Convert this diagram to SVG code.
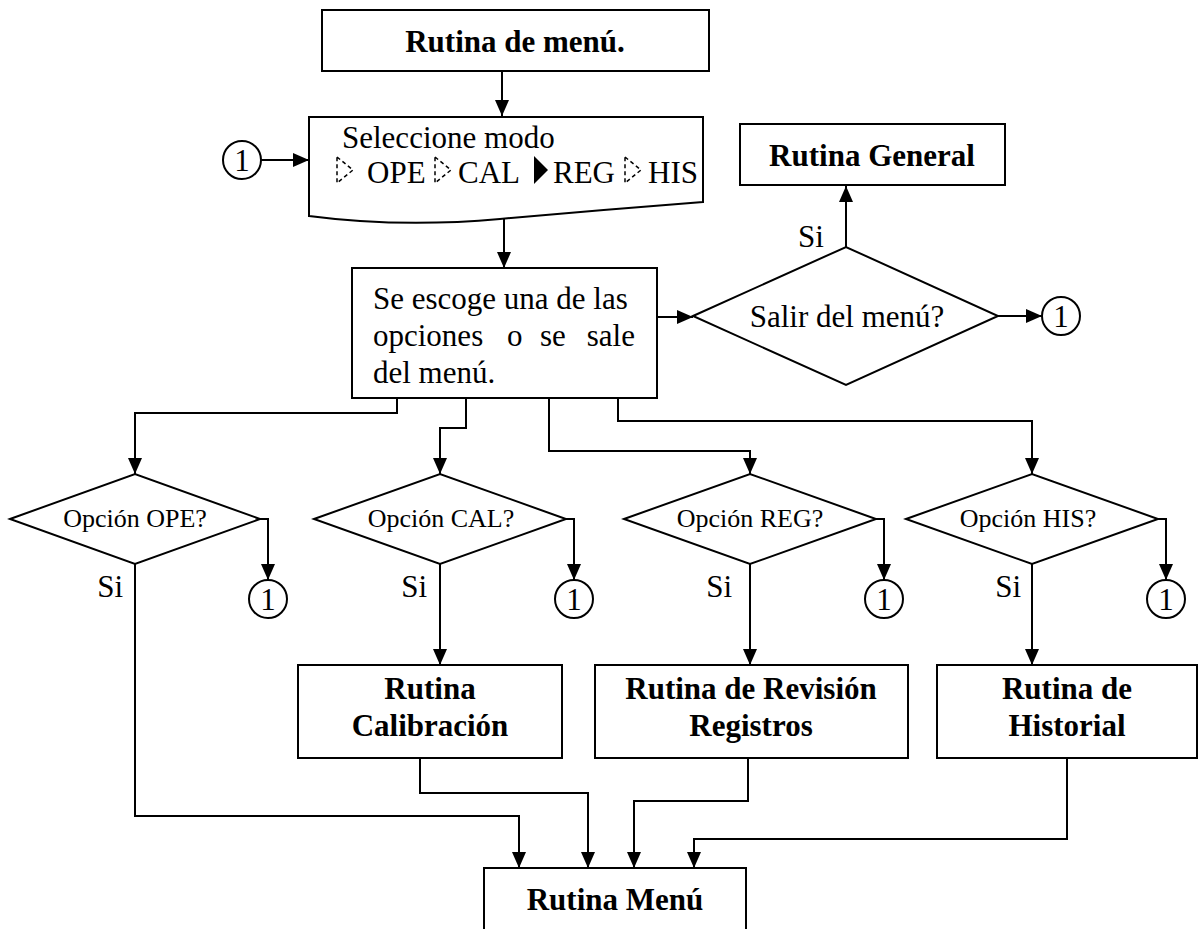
<svg xmlns="http://www.w3.org/2000/svg" width="1201" height="929" viewBox="0 0 1201 929">
<defs>
<marker id="ah" markerUnits="userSpaceOnUse" markerWidth="16" markerHeight="14" refX="16" refY="7" orient="auto"><path d="M0,0 L16,7 L0,14 z" fill="#000"/></marker>
<style>
.s{fill:#fff;stroke:#000;stroke-width:2}
.c{fill:none;stroke:#000;stroke-width:2}
.t{font-family:"Liberation Serif","Times New Roman",serif;font-size:31px;fill:#000}
.b{font-weight:bold}
.d{font-size:26px}
.m{text-anchor:middle}
.e{text-anchor:end}
.g{fill:none;stroke:#000;stroke-width:1.5;stroke-dasharray:4,3}
</style>
</defs>
<rect width="1201" height="929" fill="#fff"/>
<g id="connectors">
<path class="c" d="M502,71 V116" marker-end="url(#ah)"/>
<path class="c" d="M261,160 H309" marker-end="url(#ah)"/>
<path class="c" d="M504,219 V268" marker-end="url(#ah)"/>
<path class="c" d="M657,317 H693" marker-end="url(#ah)"/>
<path class="c" d="M846,247 V186" marker-end="url(#ah)"/>
<path class="c" d="M998,316 H1042" marker-end="url(#ah)"/>
<path class="c" d="M397,398 V413 H135 V474" marker-end="url(#ah)"/>
<path class="c" d="M466,398 V428 H440 V474" marker-end="url(#ah)"/>
<path class="c" d="M549,398 V451 H750 V474" marker-end="url(#ah)"/>
<path class="c" d="M618,398 V421 H1032 V474" marker-end="url(#ah)"/>
<path class="c" d="M260,519 H268 V580" marker-end="url(#ah)"/>
<path class="c" d="M566,519 H574 V580" marker-end="url(#ah)"/>
<path class="c" d="M876,519 H884 V580" marker-end="url(#ah)"/>
<path class="c" d="M1158,519 H1166 V580" marker-end="url(#ah)"/>
<path class="c" d="M440,564 V665" marker-end="url(#ah)"/>
<path class="c" d="M750,564 V665" marker-end="url(#ah)"/>
<path class="c" d="M1032,564 V665" marker-end="url(#ah)"/>
<path class="c" d="M135,564 V816 H519 V868" marker-end="url(#ah)"/>
<path class="c" d="M420,758 V793 H588 V868" marker-end="url(#ah)"/>
<path class="c" d="M748,758 V801 H634 V868" marker-end="url(#ah)"/>
<path class="c" d="M1067,758 V839 H694 V868" marker-end="url(#ah)"/>
</g>
<g id="n-rutina-de-menu">
<rect class="s" x="322" y="10" width="387" height="61"/>
<text class="t b m" x="515" y="52">Rutina de menú.</text>
</g>
<g id="n-conn-top">
<circle class="s" cx="242" cy="160" r="19"/>
<text class="t m" x="242" y="171">1</text>
</g>
<g id="n-seleccione">
<path class="s" d="M309,117 H703 V202 Q600,210 500,219 T309,216 Z"/>
<text class="t" x="342" y="148">Seleccione modo</text>
<polygon class="g" points="337,157 353,170 337,183"/>
<text class="t" x="367" y="183">OPE</text>
<polygon class="g" points="435,157 451,170 435,183"/>
<text class="t" x="458" y="183">CAL</text>
<polygon points="534,156 548,170 534,184" fill="#000"/>
<text class="t" x="553" y="183">REG</text>
<polygon class="g" points="625,157 641,170 625,183"/>
<text class="t" x="648" y="183">HIS</text>
</g>
<g id="n-se-escoge">
<rect class="s" x="352" y="268" width="305" height="130"/>
<text class="t" x="373" y="309">Se escoge una de las</text>
<text class="t" x="373" y="346">opciones</text>
<text class="t" x="507" y="346">o</text>
<text class="t" x="540" y="346">se</text>
<text class="t e" x="635" y="346">sale</text>
<text class="t" x="373" y="383">del menú.</text>
</g>
<g id="n-salir">
<polygon class="s" points="693,316 846,247 998,316 846,385"/>
<text class="t m" x="847" y="327">Salir del menú?</text>
<text class="t" x="798" y="247">Si</text>
</g>
<g id="n-rutina-general">
<rect class="s" x="740" y="124" width="265" height="61"/>
<text class="t b m" x="872" y="166">Rutina General</text>
</g>
<g id="n-conn-salir">
<circle class="s" cx="1061" cy="316" r="19"/>
<text class="t m" x="1061" y="327">1</text>
</g>
<g id="n-ope">
<polygon class="s" points="10,519 135,474 260,519 135,564"/>
<text class="t d m" x="135" y="527">Opción OPE?</text>
<text class="t e" x="123" y="597">Si</text>
<circle class="s" cx="268" cy="599" r="19"/>
<text class="t m" x="268" y="610">1</text>
</g>
<g id="n-cal">
<polygon class="s" points="314,519 440,474 566,519 440,564"/>
<text class="t d m" x="441" y="527">Opción CAL?</text>
<text class="t e" x="427" y="597">Si</text>
<circle class="s" cx="574" cy="599" r="19"/>
<text class="t m" x="574" y="610">1</text>
</g>
<g id="n-reg">
<polygon class="s" points="624,519 750,474 876,519 750,564"/>
<text class="t d m" x="750" y="527">Opción REG?</text>
<text class="t e" x="732" y="597">Si</text>
<circle class="s" cx="884" cy="599" r="19"/>
<text class="t m" x="884" y="610">1</text>
</g>
<g id="n-his">
<polygon class="s" points="906,519 1032,474 1158,519 1032,564"/>
<text class="t d m" x="1028" y="527">Opción HIS?</text>
<text class="t e" x="1021" y="597">Si</text>
<circle class="s" cx="1166" cy="599" r="19"/>
<text class="t m" x="1166" y="610">1</text>
</g>
<g id="n-calibracion">
<rect class="s" x="298" y="665" width="264" height="93"/>
<text class="t b m" x="430" y="699">Rutina</text>
<text class="t b m" x="430" y="736">Calibración</text>
</g>
<g id="n-revision">
<rect class="s" x="595" y="665" width="313" height="93"/>
<text class="t b m" x="751" y="699">Rutina de Revisión</text>
<text class="t b m" x="751" y="736">Registros</text>
</g>
<g id="n-historial">
<rect class="s" x="937" y="665" width="260" height="93"/>
<text class="t b m" x="1067" y="699">Rutina de</text>
<text class="t b m" x="1067" y="736">Historial</text>
</g>
<g id="n-rutina-menu">
<rect class="s" x="484" y="868" width="262" height="70"/>
<text class="t b m" x="615" y="910">Rutina Menú</text>
</g>
</svg>
